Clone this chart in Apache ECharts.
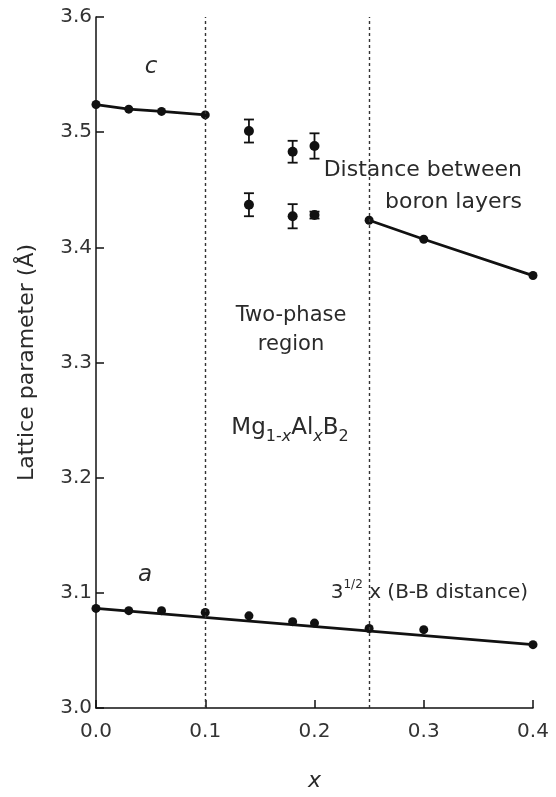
<!DOCTYPE html>
<html>
<head>
<meta charset="utf-8">
<script src="https://cdn.jsdelivr.net/npm/echarts@6/dist/echarts.min.js"></script>
<style>
  html, body { margin: 0; padding: 0; background: #fff; }
  #chart { width: 556px; height: 797px; }
</style>
</head>
<body>
<div id="chart"></div>
<script>
// c parameter, single phase Mg-rich side
var cLeftX = [0, 0.03, 0.06, 0.1];
var cLeftY = [3.524, 3.520, 3.518, 3.515];
// c parameter, Al-rich side
var cRightX = [0.25, 0.3, 0.4];
var cRightY = [3.4235, 3.407, 3.3755];
// two-phase region points with error bars
var twoPhaseX = [0.14, 0.18, 0.2, 0.14, 0.18, 0.2];
var twoPhaseY = [3.501, 3.483, 3.488, 3.437, 3.427, 3.428];
var twoPhaseErr = [0.010, 0.0095, 0.011, 0.010, 0.0105, 0.003];
// a parameter (measured points + straight fit)
var aX = [0, 0.03, 0.06, 0.1, 0.14, 0.18, 0.2, 0.25, 0.3, 0.4];
var aY = [3.0865, 3.0845, 3.0845, 3.083, 3.080, 3.075, 3.0737, 3.069, 3.068, 3.055];
var aFitX = [0, 0.4];
var aFitY = [3.0865, 3.055];
// phase boundaries
var boundaries = [0.1, 0.25];

var xTicks = ['0.0', '0.1', '0.2', '0.3', '0.4'];

function pairs(xs, ys) {
    var out = [];
    for (var i = 0; i < xs.length; i++) {
        out.push([xs[i], ys[i]]);
    }
    return out;
}

var errData = [];
for (var i = 0; i < twoPhaseX.length; i++) {
    errData.push([twoPhaseX[i], twoPhaseY[i] - twoPhaseErr[i], twoPhaseY[i] + twoPhaseErr[i]]);
}

var font = 'DejaVu Sans, Liberation Sans, sans-serif';
var ink = '#111';
var txt = '#2a2a2a';

var myChart = echarts.init(document.getElementById('chart'));

var lineStyle = { color: ink, width: 2.8 };
var dot = { color: ink, opacity: 1 };

var option = {
    animation: false,
    backgroundColor: '#fff',
    grid: { left: 96, right: 23, top: 17, bottom: 88 },
    xAxis: {
        type: 'value',
        min: 0, max: 0.4, interval: 0.1,
        name: 'x',
        nameLocation: 'middle',
        nameGap: 62,
        nameTextStyle: { fontFamily: font, fontSize: 22, fontStyle: 'italic', color: txt },
        axisLine: { lineStyle: { color: ink, width: 1.5 } },
        axisTick: { inside: true, length: 8, lineStyle: { color: ink, width: 1.5 } },
        axisLabel: {
            fontFamily: font, fontSize: 20, color: '#333', margin: 14,
            formatter: function (v) { return xTicks[Math.round(v * 10)]; }
        },
        splitLine: { show: false }
    },
    yAxis: {
        type: 'value',
        min: 3.0, max: 3.6, interval: 0.1,
        name: 'Lattice parameter (Å)',
        nameLocation: 'middle',
        nameGap: 58,
        nameTextStyle: { fontFamily: font, fontSize: 22, color: txt },
        axisLine: { lineStyle: { color: ink, width: 1.5 } },
        axisTick: { inside: true, length: 8, lineStyle: { color: ink, width: 1.5 } },
        axisLabel: {
            fontFamily: font, fontSize: 20, color: '#333', margin: 4,
            formatter: function (v) { return v.toFixed(1); }
        },
        splitLine: { show: false }
    },
    series: [
        {
            type: 'line',
            data: pairs(cLeftX, cLeftY),
            symbol: 'circle', symbolSize: 9,
            lineStyle: lineStyle, itemStyle: dot,
            markLine: {
                silent: true,
                symbol: 'none',
                label: { show: false },
                lineStyle: { color: '#333', type: [3, 3], width: 1.4 },
                data: boundaries.map(function (b) { return { xAxis: b }; })
            }
        },
        {
            type: 'line',
            data: pairs(cRightX, cRightY),
            symbol: 'circle', symbolSize: 9,
            lineStyle: lineStyle, itemStyle: dot
        },
        {
            type: 'line',
            data: pairs(aFitX, aFitY),
            symbol: 'none',
            lineStyle: lineStyle
        },
        {
            type: 'scatter',
            data: pairs(aX, aY),
            symbol: 'circle', symbolSize: 9,
            itemStyle: dot
        },
        {
            type: 'custom',
            data: errData,
            renderItem: function (params, api) {
                var x = api.value(0);
                var lo = api.coord([x, api.value(1)]);
                var hi = api.coord([x, api.value(2)]);
                var w = 5;
                var st = { stroke: ink, lineWidth: 1.8 };
                return {
                    type: 'group',
                    children: [
                        { type: 'line', shape: { x1: lo[0], y1: lo[1], x2: hi[0], y2: hi[1] }, style: st },
                        { type: 'line', shape: { x1: lo[0] - w, y1: lo[1], x2: lo[0] + w, y2: lo[1] }, style: st },
                        { type: 'line', shape: { x1: hi[0] - w, y1: hi[1], x2: hi[0] + w, y2: hi[1] }, style: st }
                    ]
                };
            }
        },
        {
            type: 'scatter',
            data: pairs(twoPhaseX, twoPhaseY),
            symbol: 'circle', symbolSize: 10,
            itemStyle: dot
        }
    ],
    graphic: [
        { type: 'text', x: 151, y: 67, style: { text: 'c', font: 'italic 23px ' + font, fill: txt, align: 'center', verticalAlign: 'middle' } },
        { type: 'text', x: 145, y: 575, style: { text: 'a', font: 'italic 23px ' + font, fill: txt, align: 'center', verticalAlign: 'middle' } },
        {
            type: 'text', x: 522, y: 186,
            style: { text: 'Distance between\nboron layers', font: '22px ' + font, fill: txt, lineHeight: 32, align: 'right', verticalAlign: 'middle' }
        },
        {
            type: 'text', x: 291, y: 330,
            style: { text: 'Two-phase\nregion', font: '21px ' + font, fill: txt, lineHeight: 29, align: 'center', verticalAlign: 'middle' }
        },
        {
            type: 'text', x: 290, y: 428,
            style: {
                text: '{n|Mg}{s|1-}{si|x}{n|Al}{si|x}{n|B}{s|2}',
                fill: txt,
                align: 'center', verticalAlign: 'middle',
                rich: {
                    n: { fontFamily: font, fontSize: 23, lineHeight: 34, verticalAlign: 'middle' },
                    s: { fontFamily: font, fontSize: 16, lineHeight: 34, verticalAlign: 'bottom' },
                    si: { fontFamily: font, fontSize: 16, fontStyle: 'italic', lineHeight: 34, verticalAlign: 'bottom' }
                }
            }
        },
        {
            type: 'text', x: 528, y: 593,
            style: {
                text: '{n|3}{s|1/2}{n| x (B-B distance)}',
                fill: txt,
                align: 'right', verticalAlign: 'middle',
                rich: {
                    n: { fontFamily: font, fontSize: 20, lineHeight: 28, verticalAlign: 'middle' },
                    s: { fontFamily: font, fontSize: 12, lineHeight: 28, verticalAlign: 'top' }
                }
            }
        }
    ]
};

myChart.setOption(option);
</script>
</body>
</html>
